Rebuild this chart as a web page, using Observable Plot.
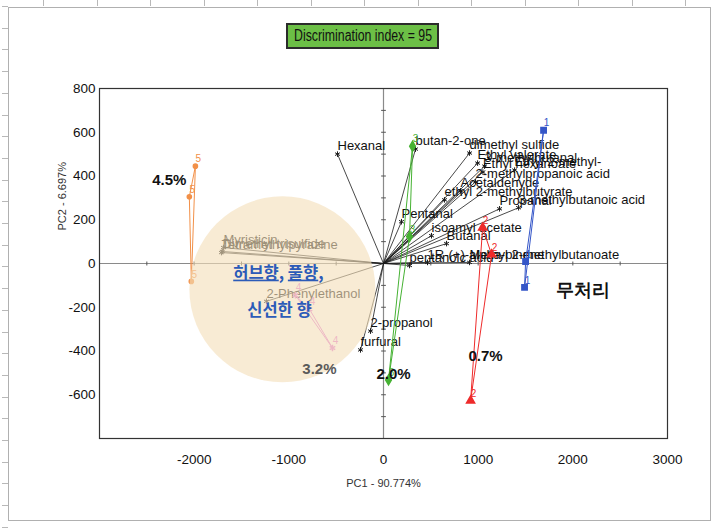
<!DOCTYPE html>
<html>
<head>
<meta charset="utf-8">
<script src="https://cdn.jsdelivr.net/npm/d3@7"></script>
<script src="https://cdn.jsdelivr.net/npm/@observablehq/plot@0.6"></script>
<style>
  html, body { margin: 0; padding: 0; background: #fff; }
  #wrap { position: relative; width: 717px; height: 530px; overflow: hidden; }
  #border { position: absolute; left: 8px; top: 7px; width: 703px; height: 514px; border: 1px solid #b0b0b0; box-sizing: border-box; }
  #ruleTop { position: absolute; left: 0; top: 0; width: 717px; height: 6px;
    background: repeating-linear-gradient(to right, transparent 0 43.5px, #b8b8b8 43.5px 44.5px, transparent 44.5px 53.5px); }
  #ruleLeft { position: absolute; left: 2px; top: 0; width: 6px; height: 530px;
    background: repeating-linear-gradient(to bottom, transparent 0 6px, #b8b8b8 6px 7px, transparent 7px 21.7px); }
  #badge {
    position: absolute; left: 286px; top: 23px; width: 153px; height: 26px;
    box-sizing: border-box; background: #6cbf46; border: 2px solid #2b2b2b;
    font: 16px "Liberation Sans", Arial, sans-serif; color: #111;
    line-height: 22px; white-space: nowrap;
  }
  #badge span { position: absolute; left: 50%; top: 0; transform: translateX(-50%) scaleX(0.77); }
  #chart { position: absolute; left: 0; top: 0; }
</style>
</head>
<body>
<div id="wrap">
  <div id="ruleTop"></div>
  <div id="ruleLeft"></div>
  <div id="border"></div>
  <div id="chart"></div>
  <div id="badge"><span>Discrimination index = 95</span></div>
</div>
<script>
// Loading vectors (volatile compounds) on PC1 / PC2
const loadingNames = [
  "Hexanal", "butan-2-one", "dimethyl sulfide", "Ethyl valerate", "3-methylbutanal",
  "Ethyl hexanoate", "Ethyl 2-methyl-", "2-methylpropanoic acid", "Acetaldehyde",
  "ethyl 2-methylbutyrate", "Propanal", "3-methylbutanoic acid", "Pentanal",
  "isoamyl acetate", "Butanal", "pentanoic acid", "1R-(+)-alpha-pinene",
  "Methyl 2-methylbutanoate", "Myristicin", "Dimethyl trisulfide", "Tetramethylpyrazine",
  "2-Phenylethanol", "2-propanol", "furfural"
];
const loadingPC1 = [
  -486, 338, 909, 994, 1068,
  1050, 1385, 972, 814,
  645, 1226, 1427, 190,
  507, 666, 275, 465,
  909, -1691, -1702, -1712,
  -1237, -137, -243
];
const loadingPC2 = [
  500, 523, 505, 459, 445,
  418, 427, 373, 332,
  291, 250, 255, 191,
  127, 91, -9, 5,
  5, 73, 55, 50,
  -173, -309, -395
];

// Sample scores, three replicates per treatment group
const sampleGroup = [1, 1, 1, 2, 2, 2, 3, 3, 3, 4, 4, 4, 5, 5, 5];
const samplePC1 = [1691, 1501, 1490, 1047, 1142, 920, 307, 275, 53, -930, -782, -539, -1987, -2051, -2030];
const samplePC2 = [609, 9, -109, 164, 41, -627, 536, 123, -532, -145, -209, -386, 445, 305, -82];

const groupIds = [1, 2, 3, 4, 5];
const groupColors = ["#3556c8", "#ee2b2b", "#46b233", "#e27ad6", "#f29048"];
const groupSymbols = ["square", "triangle", "diamond", "asterisk", "circle"];

// Treatment labels
const groupNotes = ["무처리", "0.7%", "2.0%", "3.2%", "4.5%"];
const notePC1 = [2104, 1078, 106, -677, -2262];
const notePC2 = [-123, -423, -505, -482, 382];

// Highlighted aroma region
const regionPC1 = -1068;
const regionPC2 = -118;
const regionLines = ["허브향, 풀향,", "신선한 향"];
const regionLinePC1 = [-1110, -1099];
const regionLinePC2 = [-45, -218];

const xTicks = [-2000, -1000, 0, 1000, 2000, 3000];
const yTicks = [-600, -400, -200, 0, 200, 400, 600, 800];
const xLabel = "PC1 - 90.774%";
const yLabel = "PC2 - 6.697%";

// Tables built from the arrays above
const loadings = loadingNames.map((name, i) => ({name, x: loadingPC1[i], y: loadingPC2[i]}));
const samples = sampleGroup.map((g, i) => ({group: g, x: samplePC1[i], y: samplePC2[i]}));
const outlines = groupIds.flatMap(g => {
  const pts = samples.filter(d => d.group === g);
  return [...pts, pts[0]];
});
const notes = groupNotes.map((t, i) => ({text: t, x: notePC1[i], y: notePC2[i], group: groupIds[i]}));
const region = [{x: regionPC1, y: regionPC2}];
const regionText = regionLines.map((t, i) => ({text: t, x: regionLinePC1[i], y: regionLinePC2[i]}));
const xMinor = d3.range(-3000, 3001, 500);
const yMinor = d3.range(-800, 801, 100);

const sans = '"Liberation Sans", Arial, sans-serif';
const colorOf = g => groupColors[groupIds.indexOf(g)];

const chart = Plot.plot({
  width: 717,
  height: 530,
  marginTop: 88,
  marginBottom: 92,
  marginLeft: 99,
  marginRight: 50,
  style: {fontFamily: sans, fontSize: "13px", color: "#111", background: "transparent"},
  x: {domain: [-3000, 3000]},
  y: {domain: [-800, 800]},
  marks: [
    Plot.ruleX([0], {stroke: "#8a8a8a", strokeWidth: 1.2}),
    Plot.ruleY([0], {stroke: "#8a8a8a", strokeWidth: 1.2}),
    Plot.link(yMinor, {x1: -25, x2: 25, y1: d => d, y2: d => d, stroke: "#555"}),
    Plot.link(xMinor, {x1: d => d, x2: d => d, y1: -9, y2: 9, stroke: "#555"}),
    Plot.frame({stroke: "#333", strokeWidth: 1.2}),
    Plot.axisX({ticks: xTicks, tickFormat: d => String(d), tickSize: 0, tickPadding: 16, label: null,
      fontSize: 13.5, fontFamily: sans}),
    Plot.axisY({ticks: yTicks, tickFormat: d => String(d), tickSize: 0, tickPadding: 4, label: null,
      fontSize: 13.5, fontFamily: sans}),
    Plot.text([xLabel], {frameAnchor: "bottom", dy: 48, fontSize: 11, fill: "#333", fontFamily: sans}),
    Plot.text([yLabel], {frameAnchor: "left", rotate: -90, dx: -37, dy: -33, fontSize: 11, fill: "#333", fontFamily: sans}),

    // loading vectors
    Plot.link(loadings, {x1: 0, y1: 0, x2: "x", y2: "y", stroke: "#1a1a1a", strokeWidth: 0.8}),
    Plot.dot(loadings, {x: "x", y: "y", symbol: "asterisk", r: 2.6, stroke: "#1a1a1a", strokeWidth: 1}),
    Plot.text(loadings, {x: "x", y: "y", text: "name", textAnchor: "start", dx: 0, dy: -8,
      fontSize: 13, fontFamily: sans, fill: "#111"}),

    // sample groups
    Plot.line(outlines, {x: "x", y: "y", z: "group", stroke: d => colorOf(d.group), strokeWidth: 1}),
    Plot.dot(samples, {x: "x", y: "y", symbol: d => groupSymbols[groupIds.indexOf(d.group)],
      r: d => d.group === 5 ? 1.2 : 2.5,
      fill: d => colorOf(d.group), stroke: d => colorOf(d.group)}),
    Plot.text(samples, {x: "x", y: "y", text: d => String(d.group), dx: 3, dy: -7, fontSize: 10,
      fontFamily: sans, fill: d => colorOf(d.group)}),

    // aroma region overlay
    Plot.dot(region, {x: "x", y: "y", r: 93, fill: "#f3dfb9", fillOpacity: 0.62, stroke: "none"}),

    Plot.text(notes, {x: "x", y: "y", text: "text", fontSize: d => d.group === 1 ? 18 : 15, fontWeight: "bold",
      fontFamily: d => d.group === 1 ? '"Noto Sans CJK KR", sans-serif' : sans,
      fill: d => d.group === 4 ? "#5a5a5a" : "#111"}),
    Plot.text(regionText, {x: "x", y: "y", text: "text", fontSize: 16.5, fontWeight: "bold",
      fontFamily: '"Noto Sans CJK KR", sans-serif', fill: "#2c5bb8"})
  ]
});

// wavy spell-check style underline beneath the herb/grass words
d3.select(chart).selectAll("text").filter(function () { return this.textContent === regionLines[0]; })
  .each(function () {
    const t = d3.select(this);
    t.text(null);
    ["허브향", ", ", "풀향", ","].forEach((part, i) => {
      const s = t.append("tspan").text(part);
      if (i % 2 === 0) s.style("text-decoration", "underline wavy #e23b3b").style("text-decoration-thickness", "1px");
    });
  });

document.getElementById("chart").append(chart);
</script>
</body>
</html>
